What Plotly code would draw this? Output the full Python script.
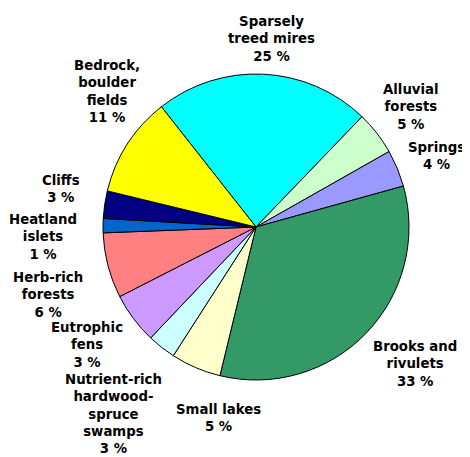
import math
import plotly.graph_objects as go

# ---- data ----
categories = [
    "Sparsely<br>treed mires",
    "Alluvial<br>forests",
    "Springs",
    "Brooks and<br>rivulets",
    "Small lakes",
    "Nutrient-rich<br>hardwood-<br>spruce<br>swamps",
    "Eutrophic<br>fens",
    "Herb-rich<br>forests",
    "Heatland<br>islets",
    "Cliffs",
    "Bedrock,<br>boulder<br>fields",
]
# slice sizes as drawn (share of the circle, %)
slice_values = [22.8, 4.6, 3.9, 33.1, 5.3, 3.0, 5.4, 6.9, 1.5, 2.9, 10.6]
# percentages as printed in the labels
printed_pct = [25, 5, 4, 33, 5, 3, 3, 6, 1, 3, 11]

colors = ["#00FFFF", "#CCFFCC", "#9999FF", "#339966", "#FFFFCC", "#CCFFFF",
          "#CC99FF", "#FF8080", "#0066CC", "#000080", "#FFFF00"]

# ---- layout / style ----
PAGE_OFFSET = 8                    # default body margin of the html page
W, H = 470 - PAGE_OFFSET, 457 - PAGE_OFFSET
CX, CY, R = 256 - PAGE_OFFSET, 227 - PAGE_OFFSET, 153   # pie centre / radius in figure px
ROTATION = -38.2                   # first slice starts here (deg, clockwise from 12 o'clock)
LABEL_R = R + 30                   # anchor radius for labels
# label nudges (px, screen: +x right, +y down)
label_nudge = [(6, -5), (10, -8), (11, -1), (27, 10), (35, 23), (-30, 43),
               (-22, 8), (-31, 22), (-30, 12), (-14, -11), (5, -37)]
FONT = dict(family="DejaVu Sans", size=13.3, color="#000000")

dom_x = [(CX - R) / W, (CX + R) / W]
dom_y = [1 - (CY + R) / H, 1 - (CY - R) / H]

fig = go.Figure(go.Pie(
    values=slice_values,
    labels=[c.replace("<br>", " ") for c in categories],
    sort=False,
    direction="clockwise",
    rotation=ROTATION,
    marker=dict(colors=colors, line=dict(color="#000000", width=1)),
    textinfo="none",
    hoverinfo="skip",
    showlegend=False,
    domain=dict(x=dom_x, y=dom_y),
))

# label annotations placed at each slice's mid-angle (computed from the values)
total = sum(slice_values)
start = ROTATION
annotations = []
for cat, v, p, (nx, ny) in zip(categories, slice_values, printed_pct, label_nudge):
    mid = start + 360.0 * v / total / 2
    start += 360.0 * v / total
    a = math.radians(mid)
    px = CX + LABEL_R * math.sin(a)
    py = CY - LABEL_R * math.cos(a)
    annotations.append(dict(
        x=px / W, y=1 - py / H, xref="paper", yref="paper",
        text=f"<b>{cat}<br>{p} %</b>", showarrow=False,
        xanchor="center", yanchor="middle", align="center",
        xshift=nx, yshift=-ny, font=FONT,
    ))

fig.update_layout(
    width=W, height=H,
    margin=dict(l=0, r=0, t=0, b=0),
    paper_bgcolor="#FFFFFF", plot_bgcolor="#FFFFFF",
    annotations=annotations,
)

fig.write_html("out.html")
